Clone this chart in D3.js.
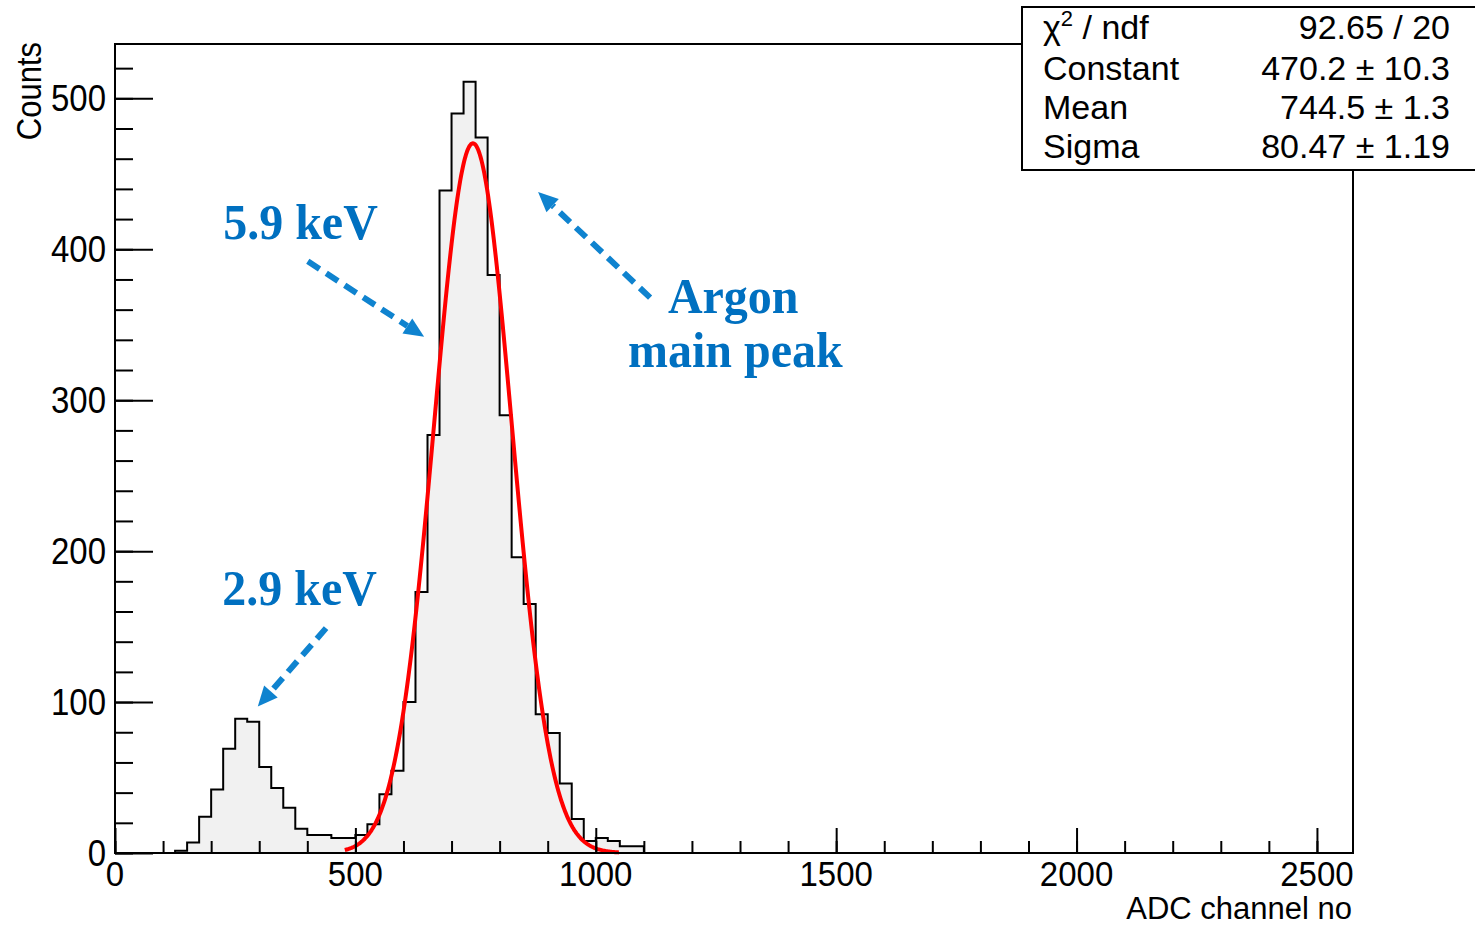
<!DOCTYPE html>
<html>
<head>
<meta charset="utf-8">
<script src="https://cdn.jsdelivr.net/npm/d3@7"></script>
<style>
  body { margin: 0; background: #fff; }
</style>
</head>
<body>
<script>
var canvasWidth = 1475;
var canvasHeight = 925;

// histogram: 25-channel bins, counts
var binWidth = 25;
var binLow = [125, 150, 175, 200, 225, 250, 275, 300, 325, 350, 375, 400, 425, 450, 475,
              500, 525, 550, 575, 600, 625, 650, 675, 700, 725, 750, 775, 800, 825, 850,
              875, 900, 925, 950, 975, 1000, 1025, 1050, 1075];
var counts = [1.5, 7, 24, 42, 69, 89, 87, 57, 43, 30, 16, 12, 12, 10, 10,
              12, 19, 39, 54.5, 100, 173, 277, 439, 490, 511, 474, 383, 290, 196, 165,
              92, 79.5, 46, 22.5, 8, 10, 8, 4.5, 4.5];

// gaussian fit (constant, mean, sigma) and the range it was drawn over
var fitParams = [470.2, 744.5, 80.47];
var fitRange = [478, 1048];

var xDomain = [0, 2575];
var yDomain = [0, 536];
var xMajor = [0, 500, 1000, 1500, 2000, 2500];
var yMajor = [0, 100, 200, 300, 400, 500];

var statNames = ['Constant', 'Mean', 'Sigma'];
var statValues = ['470.2 \u00b1 10.3', '744.5 \u00b1 1.3', '80.47 \u00b1 1.19'];
var chi2Value = '92.65 / 20';

// annotations, in data units (channel, counts)
var notes = [
    { text: '5.9 keV', x: 225, y: 407 },
    { text: '2.9 keV', x: 223, y: 164 },
    { text: 'Argon', x: 1150, y: 358 },
    { text: 'main peak', x: 1067, y: 322 }
];
var arrows = [
    { from: [401, 392], to: [643, 342] },
    { from: [1113, 368], to: [880, 438] },
    { from: [439, 149], to: [297, 97] }
];

var frameLeft = 115, frameRight = 1353, frameTop = 44, frameBottom = 853;
var sans = '"Liberation Sans", Arial, Helvetica, sans-serif';
var serif = '"Liberation Serif", "Times New Roman", serif';

var svg = d3.select('body')
    .append('svg')
    .attr('width', canvasWidth)
    .attr('height', canvasHeight);

svg.append('rect')
    .attr('width', canvasWidth)
    .attr('height', canvasHeight)
    .attr('fill', '#fff');

var xScale = d3.scaleLinear().domain(xDomain).range([frameLeft, frameRight]);
var yScale = d3.scaleLinear().domain(yDomain).range([frameBottom, frameTop]);

// sy: text in the picture is a bit taller than normal, stretch where there is room
function label(txt, x, y, anchor, size, sy) {
    return svg.append('text')
        .attr('transform', 'translate(' + x + ',' + y + ') scale(1,' + (sy || 1) + ')')
        .attr('text-anchor', anchor)
        .attr('font-family', sans)
        .attr('font-size', size + 'px')
        .attr('fill', '#000')
        .text(txt);
}

// histogram
var pts = [[binLow[0], 0]];
binLow.forEach(function (b, i) { pts.push([b, counts[i]]); });
pts.push([binLow[binLow.length - 1] + binWidth, 0]);

svg.append('path')
    .datum(pts)
    .attr('fill', '#f1f1f1')
    .attr('d', d3.area()
        .curve(d3.curveStepAfter)
        .x(function (d) { return xScale(d[0]); })
        .y0(yScale(0))
        .y1(function (d) { return yScale(d[1]); }));

svg.append('path')
    .datum(pts)
    .attr('fill', 'none')
    .attr('stroke', '#000')
    .attr('stroke-width', 2)
    .attr('d', d3.line()
        .curve(d3.curveStepAfter)
        .x(function (d) { return xScale(d[0]); })
        .y(function (d) { return yScale(d[1]); }));

// fit curve
function gaus(x) {
    var t = (x - fitParams[1]) / fitParams[2];
    return fitParams[0] * Math.exp(-0.5 * t * t);
}
var fitPts = d3.range(fitRange[0], fitRange[1] + 1, 2).map(function (x) { return [x, gaus(x)]; });

svg.append('path')
    .datum(fitPts)
    .attr('fill', 'none')
    .attr('stroke', '#ff0000')
    .attr('stroke-width', 4)
    .attr('stroke-linejoin', 'round')
    .attr('d', d3.line()
        .x(function (d) { return xScale(d[0]); })
        .y(function (d) { return yScale(d[1]); }));

// frame
svg.append('rect')
    .attr('x', frameLeft)
    .attr('y', frameTop)
    .attr('width', frameRight - frameLeft)
    .attr('height', frameBottom - frameTop)
    .attr('fill', 'none')
    .attr('stroke', '#000')
    .attr('stroke-width', 2);

// ticks (pointing inwards like ROOT)
function styleAxis(g) {
    g.select('.domain').remove();
    g.selectAll('line').attr('stroke', '#000').attr('stroke-width', 2);
}
svg.append('g')
    .attr('transform', 'translate(0,' + frameBottom + ')')
    .call(d3.axisBottom(xScale).tickValues(d3.range(0, 2501, 100)).tickSize(-12).tickFormat(''))
    .call(styleAxis);
svg.append('g')
    .attr('transform', 'translate(0,' + frameBottom + ')')
    .call(d3.axisBottom(xScale).tickValues(xMajor).tickSize(-25).tickFormat(''))
    .call(styleAxis);
svg.append('g')
    .attr('transform', 'translate(' + frameLeft + ',0)')
    .call(d3.axisLeft(yScale).tickValues(d3.range(0, 521, 20)).tickSize(-18).tickFormat(''))
    .call(styleAxis);
svg.append('g')
    .attr('transform', 'translate(' + frameLeft + ',0)')
    .call(d3.axisLeft(yScale).tickValues(yMajor).tickSize(-38).tickFormat(''))
    .call(styleAxis);

// tick labels
xMajor.forEach(function (v) {
    label(String(v), xScale(v), 886, 'middle', 33, 1.04);
});
yMajor.forEach(function (v) {
    label(String(v), frameLeft - 9, yScale(v) + 13, 'end', 33, 1.12);
});

// axis titles
label('ADC channel no', frameRight - 1, 918.5, 'end', 31);
svg.append('text')
    .attr('transform', 'translate(41,42) rotate(-90) scale(1,1.12)')
    .attr('text-anchor', 'end')
    .attr('font-family', sans)
    .attr('font-size', '31px')
    .text('Counts');

// stats box
svg.append('rect')
    .attr('x', 1022)
    .attr('y', 7)
    .attr('width', 470)
    .attr('height', 163)
    .attr('fill', '#fff')
    .attr('stroke', '#000')
    .attr('stroke-width', 2);

var chi = label('', 1043, 39, 'start', 34);
chi.append('tspan').text('\u03c7');
chi.append('tspan').attr('dy', -13).attr('font-size', '22px').text('2');
chi.append('tspan').attr('dy', 13).text(' / ndf');
label(chi2Value, 1450, 39, 'end', 34);

var rowY = [80, 119, 158];
statNames.forEach(function (n, i) {
    label(n, 1043, rowY[i], 'start', 34);
    label(statValues[i], 1450, rowY[i], 'end', 34);
});

// annotations
notes.forEach(function (n) {
    svg.append('text')
        .attr('transform', 'translate(' + xScale(n.x) + ',' + yScale(n.y) + ') scale(1,1.05)')
        .attr('font-family', serif)
        .attr('font-weight', 'bold')
        .attr('font-size', '48px')
        .attr('fill', '#0070c0')
        .text(n.text);
});

arrows.forEach(function (a) {
    var x1 = xScale(a.from[0]), y1 = yScale(a.from[1]);
    var x2 = xScale(a.to[0]), y2 = yScale(a.to[1]);
    var ang = Math.atan2(y2 - y1, x2 - x1);
    var headLen = 20, headW = 9;
    var bx = x2 - headLen * Math.cos(ang), by = y2 - headLen * Math.sin(ang);
    svg.append('line')
        .attr('x1', x1).attr('y1', y1)
        .attr('x2', bx).attr('y2', by)
        .attr('stroke', '#0f83cf')
        .attr('stroke-width', 6)
        .attr('stroke-dasharray', '14,8');
    var px = -Math.sin(ang), py = Math.cos(ang);
    svg.append('path')
        .attr('d', 'M' + x2 + ',' + y2 +
            'L' + (bx + px * headW) + ',' + (by + py * headW) +
            'L' + (bx - px * headW) + ',' + (by - py * headW) + 'Z')
        .attr('fill', '#0f83cf');
});
</script>
</body>
</html>
